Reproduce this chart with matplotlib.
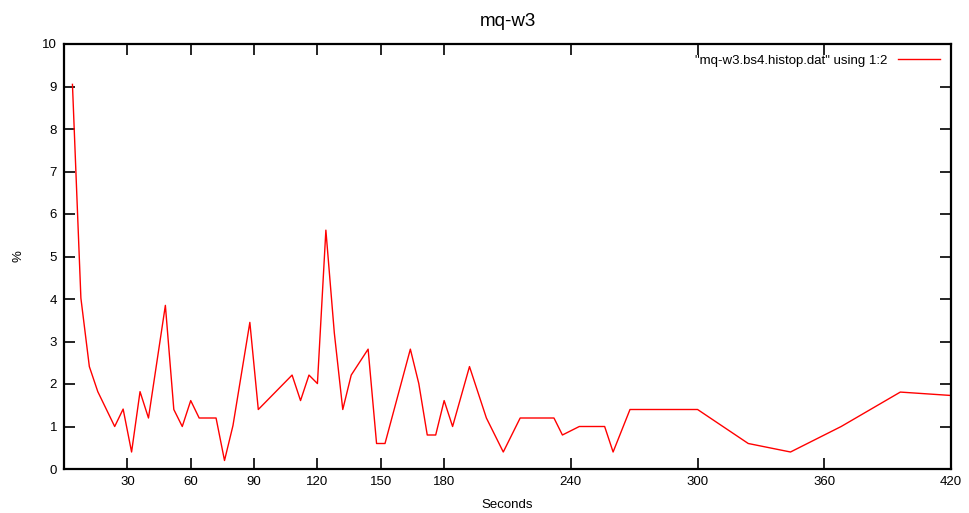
import matplotlib
matplotlib.use("Agg")
import matplotlib.pyplot as plt

plt.rcParams["font.family"] = ["Liberation Sans", "DejaVu Sans"]

# sample times (s) and share (%) from mq-w3.bs4.histop.dat, columns 1:2
seconds = [4, 8, 12, 16, 24, 28, 32, 36, 40, 48, 52, 56, 60, 64, 72, 76, 80,
           88, 92, 108, 112, 116, 120, 124, 128, 132, 136, 144, 148, 152,
           164, 168, 172, 176, 180, 184, 192, 200, 208, 216, 232, 236, 244,
           256, 260, 268, 300, 324, 344, 368, 396, 420]
percent = [9.05, 4.02, 2.41, 1.82, 1.0, 1.41, 0.4, 1.82, 1.2, 3.85, 1.4, 1.0,
           1.61, 1.2, 1.2, 0.2, 1.02, 3.45, 1.4, 2.21, 1.61, 2.21, 2.01, 5.62,
           3.2, 1.4, 2.21, 2.82, 0.6, 0.6, 2.82, 2.01, 0.8, 0.8, 1.61, 1.0,
           2.41, 1.2, 0.4, 1.2, 1.2, 0.8, 1.0, 1.0, 0.4, 1.4, 1.4, 0.6, 0.4,
           1.0, 1.81, 1.73]
x_ticks = [30, 60, 90, 120, 150, 180, 240, 300, 360, 420]
y_ticks = list(range(0, 11))

fig = plt.figure(figsize=(9.69, 5.13), dpi=100)
ax = fig.add_axes([64 / 969, 1 - 469 / 513, 887 / 969, 425 / 513])

ax.plot(seconds, percent, color="#ff0000", lw=1.0,
        label='"mq-w3.bs4.histop.dat" using 1:2')

ax.set_xlim(0, 420)
ax.set_ylim(0, 10)
ax.set_xticks(x_ticks)
ax.set_yticks(y_ticks)
ax.tick_params(direction="in", length=8, width=1.2, top=True, right=True,
               labelsize=9.5, pad=5, colors="black")
for s in ax.spines.values():
    s.set_linewidth(1.6)

ax.set_title("mq-w3", fontsize=13.5, pad=13)
ax.set_xlabel("Seconds", fontsize=9.5, labelpad=8)
ax.set_ylabel("%", fontsize=9.5, labelpad=13)

ax.legend(loc="upper right", frameon=False, markerfirst=False, fontsize=9.5,
          handlelength=3.2, borderaxespad=0.4)

fig.savefig("out.png", dpi=100)
